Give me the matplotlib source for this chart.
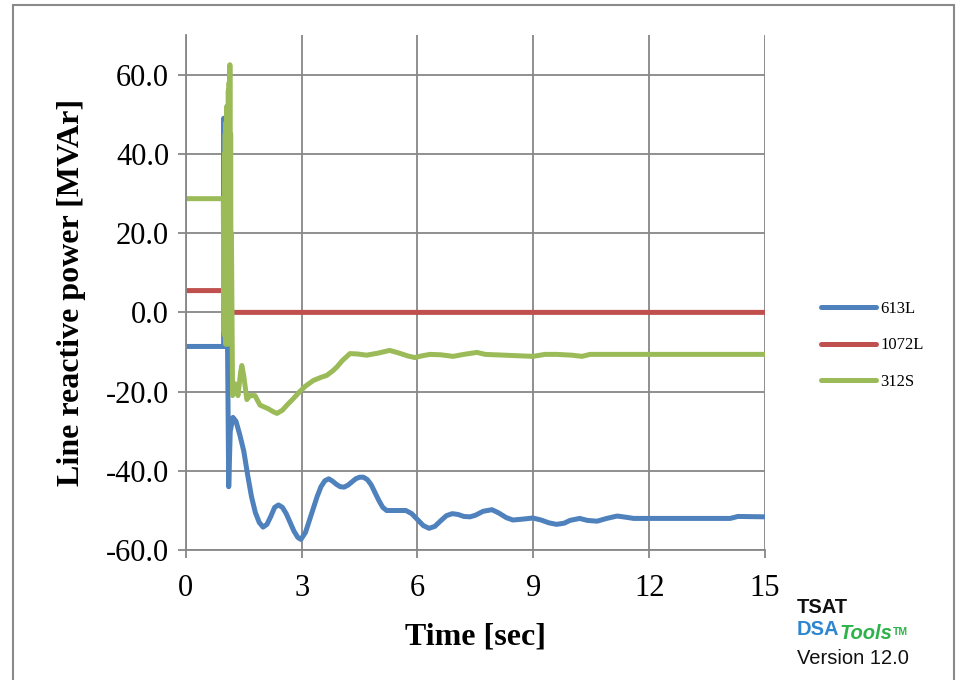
import matplotlib
matplotlib.use("Agg")
import matplotlib.pyplot as plt
from matplotlib.patches import Rectangle

plt.rcParams["axes.unicode_minus"] = False

# 613L line reactive power
t_613 = [0, 0.98, 0.98, 1.0, 1.08, 1.11, 1.15, 1.22, 1.3, 1.4, 1.5, 1.6, 1.7, 1.8, 1.9,
         2.0, 2.1, 2.2, 2.3, 2.4, 2.5, 2.6, 2.7, 2.8, 2.9, 2.98, 3.1, 3.2, 3.3, 3.4, 3.5,
         3.6, 3.7, 3.8, 3.9, 4.0, 4.1, 4.2, 4.3, 4.4, 4.5, 4.6, 4.7, 4.8, 4.9, 5.0, 5.1,
         5.2, 5.4, 5.7, 5.85, 6.0, 6.15, 6.3, 6.45, 6.6, 6.75, 6.9, 7.05, 7.2, 7.36, 7.5,
         7.7, 7.93, 8.1, 8.3, 8.47, 8.7, 8.99, 9.2, 9.4, 9.6, 9.8, 9.95, 10.2, 10.4, 10.65,
         10.9, 11.17, 11.4, 11.6, 14.1, 14.3, 15]
q_613 = [-8.6, -8.6, 49, -8.6, -8.6, -44, -30, -26.5, -27.5, -31, -35, -41, -46.5, -50.5, -53,
         -54.2, -53.5, -51.5, -49.2, -48.6, -49.2, -50.8, -53, -55.2, -56.8, -57.3, -55.5, -52.5, -49.5, -46.5, -44,
         -42.5, -42, -42.6, -43.4, -44, -44.1, -43.6, -42.8, -42, -41.6, -41.6, -42.2, -43.5, -45.5, -47.5, -49.2,
         -50, -50, -50, -50.8, -52.3, -53.8, -54.5, -54, -52.6, -51.3, -50.8, -51, -51.5, -51.6, -51.2,
         -50.2, -49.8, -50.6, -51.8, -52.4, -52.2, -51.9, -52.4, -53.1, -53.5, -53.2, -52.5, -52, -52.5, -52.7,
         -52, -51.4, -51.7, -52, -52, -51.5, -51.6]

# 1072L
t_1072 = [0, 1.0, 1.05, 15]
q_1072 = [5.5, 5.5, 0, 0]

# 312S
t_312 = [0, 0.97, 0.99, 1.0, 1.01, 1.02, 1.03, 1.04, 1.05, 1.06, 1.07, 1.08, 1.09, 1.1,
         1.11, 1.12, 1.13, 1.14, 1.15, 1.16, 1.17, 1.18, 1.21, 1.27,
         1.35, 1.42, 1.45, 1.5, 1.58, 1.66, 1.79, 1.92, 2.13, 2.25, 2.36, 2.5, 2.62, 2.8,
         2.95, 3.1, 3.3, 3.5, 3.65, 3.8, 3.91, 4.05, 4.25, 4.45, 4.68, 4.97, 5.28, 5.5,
         5.75, 5.93, 6.1, 6.32, 6.6, 6.92, 7.2, 7.54, 7.75, 8.99, 9.3, 9.6, 10.0, 10.26,
         10.47, 15]
q_312 = [28.7, 28.7, -5, 40, -6, 45, -8, 48, -5, 52, -8, 50, -6, 56,
         -8, 58, -4, 62.5, 0, 45, -3, 20, -21, -18,
         -21, -15, -13.4, -16, -22, -21, -21, -23.4, -24.3, -25, -25.5, -24.7, -23.4, -21.6,
         -20, -18.6, -17.2, -16.4, -15.9, -14.8, -13.8, -12.2, -10.4, -10.5, -10.8, -10.3, -9.6, -10.2,
         -11, -11.4, -11, -10.6, -10.7, -11.1, -10.6, -10.1, -10.6, -11.1, -10.6, -10.6, -10.8, -11.1,
         -10.6, -10.6]

x_ticks = [0, 3, 6, 9, 12, 15]
y_ticks = [-60, -40, -20, 0, 20, 40, 60]

fig = plt.figure(figsize=(9.58, 6.8), dpi=100)
ax = fig.add_axes([0.194, 0.191, 0.6045, 0.7575])

line_kw = dict(lw=3.6, solid_capstyle="round", solid_joinstyle="round")
ax.plot(t_613, q_613, color="#4F81BD", label="613L", **line_kw)
ax.plot(t_1072, q_1072, color="#C0504D", label="1072L", **line_kw)
ax.plot(t_312, q_312, color="#9BBB59", label="312S", **line_kw)

ax.set_xlim(0, 15)
ax.set_ylim(-60, 70)
ax.set_xticks(x_ticks)
ax.set_yticks(y_ticks)
ax.set_yticklabels([f"{v:.1f}" for v in y_ticks])
ax.grid(True, color="#878787", lw=1.3)
ax.set_axisbelow(True)

for side in ["top", "right"]:
    ax.spines[side].set_visible(False)
for side in ["left", "bottom"]:
    ax.spines[side].set_color("#878787")
    ax.spines[side].set_linewidth(1.3)

ax.tick_params(axis="both", direction="out", length=6, width=1.3, color="#878787",
               labelsize=22)
ax.tick_params(axis="y", pad=6)
ax.tick_params(axis="x", pad=11)
for lab in ax.get_xticklabels() + ax.get_yticklabels():
    lab.set_family("Liberation Serif")

ax.set_xlabel("Time [sec]", family="Liberation Serif", fontweight="bold", fontsize=23,
              labelpad=14)
ax.set_ylabel("Line reactive power [MVAr]", family="Liberation Serif", fontweight="bold",
              fontsize=23, labelpad=14)

ax.legend(loc="center left", bbox_to_anchor=(0.841, 0.492), bbox_transform=fig.transFigure,
          frameon=False, prop={"family": "Liberation Serif", "size": 12},
          handlelength=3.3, handletextpad=0.3, labelspacing=1.25)

# TSAT stamp
fs = 14.5
t1 = fig.text(0.832, 0.098, "TSAT", family="Liberation Sans", fontweight="bold",
              fontsize=fs, color="#111111")
t2 = fig.text(0.832, 0.066, "DSA", family="Liberation Sans", fontweight="bold",
              fontsize=fs, color="#2E86D1")
t3 = ax.annotate("Tools", xy=(1, 0), xycoords=t2, family="Liberation Sans",
                 fontweight="bold", style="italic", fontsize=fs, color="#2DB34A")
ax.annotate("TM", xy=(1, 0.45), xycoords=t3, family="Liberation Sans",
            fontweight="bold", fontsize=7.5, color="#2DB34A")
fig.text(0.832, 0.023, "Version 12.0", family="Liberation Sans", fontsize=fs,
         color="#111111")

# outer frame
fig.patches.append(Rectangle((0.0136, -0.05), 0.982, 1.043, transform=fig.transFigure,
                             fill=False, edgecolor="#8a8a8a", lw=1.5))

fig.savefig("out.png", dpi=100)
